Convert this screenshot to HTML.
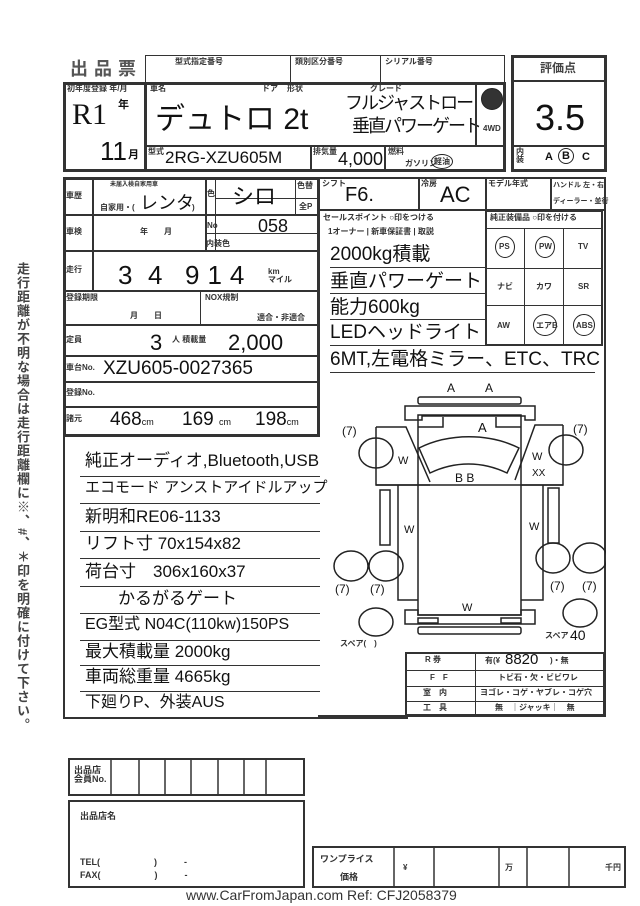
<!DOCTYPE html>
<html><head><meta charset="utf-8"><style>
body{margin:0;width:640px;height:906px;background:#fff;position:relative;overflow:hidden;font-family:"Liberation Sans","Noto Sans CJK JP",sans-serif;color:#111}
.b{position:absolute;border:2px solid #333;box-sizing:border-box}
.t{position:absolute;white-space:nowrap;line-height:1}
.s{font-size:8px;font-weight:bold;color:#333}
.c{position:absolute;border:1.5px solid #222;border-radius:50%;box-sizing:border-box}
</style></head><body>
<!-- header -->
<div class="t" style="left:70px;top:60px;font-size:18px;font-weight:bold;color:#555;letter-spacing:6px">出品票</div>
<div class="b" style="left:145px;top:55px;width:360px;height:28px;border-width:1.5px"></div>
<div class="b" style="left:290px;top:55px;width:1px;height:28px;border-width:0 0 0 1.5px"></div>
<div class="b" style="left:380px;top:55px;width:1px;height:28px;border-width:0 0 0 1.5px"></div>
<div class="t s" style="left:175px;top:58px">型式指定番号</div>
<div class="t s" style="left:295px;top:58px">類別区分番号</div>
<div class="t s" style="left:385px;top:58px">シリアル番号</div>
<div class="b" style="left:63px;top:82px;width:443px;height:90px;border-width:3px"></div>
<div class="b" style="left:63px;top:82px;width:84px;height:90px;border-width:3px"></div>
<div class="t s" style="left:67px;top:85px">初年度登録 年/月</div>
<div class="t" style="left:72px;top:100px;font-size:30px;font-family:'Liberation Serif',serif">R1</div>
<div class="t" style="left:118px;top:100px;font-size:11px;font-weight:bold">年</div>
<div class="t" style="left:100px;top:138px;font-size:26px">11</div>
<div class="t" style="left:128px;top:150px;font-size:11px;font-weight:bold">月</div>
<div class="t s" style="left:150px;top:85px">車名</div>
<div class="t s" style="left:262px;top:85px">ドア</div>
<div class="t s" style="left:287px;top:85px">形状</div>
<div class="t s" style="left:370px;top:85px">グレード</div>
<div class="t" style="left:155px;top:105px;font-size:30px">デュトロ 2t</div>
<div class="t" style="left:345px;top:94px;font-size:18px;letter-spacing:-2px">フルジャストロー</div>
<div class="t" style="left:352px;top:117px;font-size:18px;letter-spacing:-2px">垂直パワーゲート</div>
<div class="b" style="left:475px;top:82px;width:31px;height:65px;border-width:0 0 0 2px"></div>
<div class="c" style="left:481px;top:88px;width:22px;height:22px;background:#333"></div>
<div class="t s" style="left:483px;top:125px">4WD</div>
<div class="b" style="left:145px;top:145px;width:361px;height:27px;border-width:2px 0 0 2px"></div>
<div class="b" style="left:310px;top:145px;width:76px;height:27px;border-width:0 2px 0 2px"></div>
<div class="t s" style="left:148px;top:148px">型式</div>
<div class="t" style="left:165px;top:149px;font-size:17px">2RG-XZU605M</div>
<div class="t s" style="left:313px;top:148px">排気量</div>
<div class="t" style="left:338px;top:150px;font-size:18px">4,000</div>
<div class="t s" style="left:388px;top:148px">燃料</div>
<div class="t s" style="left:405px;top:160px">ガソリン</div>
<div class="c" style="left:431px;top:154px;width:22px;height:15px"></div>
<div class="t s" style="left:434px;top:158px">軽油</div>
<!-- score -->
<div class="b" style="left:511px;top:55px;width:96px;height:117px;border-width:3px"></div>
<div class="b" style="left:511px;top:55px;width:96px;height:27px;border-width:0 0 2px 0"></div>
<div class="t" style="left:540px;top:62px;font-size:12px;font-weight:bold;color:#444">評価点</div>
<div class="t" style="left:535px;top:100px;font-size:36px">3.5</div>
<div class="b" style="left:511px;top:145px;width:96px;height:27px;border-width:2px 0 0 0"></div>
<div class="t s" style="left:516px;top:148px">内<br>装</div>
<div class="t" style="left:545px;top:152px;font-size:11px;font-weight:bold">A</div>
<div class="c" style="left:558px;top:148px;width:16px;height:16px"></div>
<div class="t" style="left:562px;top:151px;font-size:11px;font-weight:bold">B</div>
<div class="t" style="left:582px;top:152px;font-size:11px;font-weight:bold">C</div>
<!-- left section 2 -->
<div class="b" style="left:63px;top:177px;width:257px;height:260px;border-width:3px"></div>
<div class="b" style="left:63px;top:214px;width:257px;height:1px;border-width:2px 0 0 0"></div>
<div class="b" style="left:63px;top:250px;width:257px;height:1px;border-width:2px 0 0 0"></div>
<div class="b" style="left:63px;top:290px;width:257px;height:1px;border-width:2px 0 0 0"></div>
<div class="b" style="left:63px;top:324px;width:257px;height:1px;border-width:2px 0 0 0"></div>
<div class="b" style="left:63px;top:355px;width:257px;height:1px;border-width:2px 0 0 0"></div>
<div class="b" style="left:63px;top:381px;width:257px;height:1px;border-width:2px 0 0 0"></div>
<div class="b" style="left:63px;top:406px;width:257px;height:1px;border-width:2px 0 0 0"></div>
<div class="b" style="left:92px;top:177px;width:1px;height:113px;border-width:0 0 0 2px"></div>
<div class="b" style="left:205px;top:177px;width:1px;height:73px;border-width:0 0 0 2px"></div>
<div class="b" style="left:215px;top:177px;width:1px;height:73px;border-width:0 0 0 1.5px"></div>
<div class="b" style="left:295px;top:177px;width:1px;height:37px;border-width:0 0 0 1.5px"></div>
<div class="b" style="left:215px;top:198px;width:105px;height:1px;border-width:1.5px 0 0 0"></div>
<div class="b" style="left:205px;top:233px;width:115px;height:1px;border-width:1.5px 0 0 0"></div>
<div class="t s" style="left:66px;top:192px">車歴</div>
<div class="t s" style="left:110px;top:182px;font-size:6px">未届入検自家用車</div>
<div class="t s" style="left:100px;top:204px">自家用・(</div>
<div class="t" style="left:140px;top:194px;font-size:18px">レンタ</div>
<div class="t s" style="left:192px;top:204px">)</div>
<div class="t s" style="left:207px;top:190px">色</div>
<div class="t" style="left:232px;top:186px;font-size:22px">シロ</div>
<div class="t s" style="left:297px;top:182px">色替</div>
<div class="t s" style="left:299px;top:203px">全P</div>
<div class="t s" style="left:207px;top:222px">No</div>
<div class="t" style="left:258px;top:217px;font-size:18px">058</div>
<div class="t s" style="left:66px;top:228px">車検</div>
<div class="t s" style="left:140px;top:228px">年　　月</div>
<div class="t s" style="left:206px;top:240px">内装色</div>
<div class="t s" style="left:66px;top:266px">走行</div>
<div class="t" style="left:118px;top:262px;font-size:26px;letter-spacing:4px">3</div>
<div class="t" style="left:148px;top:262px;font-size:26px">4</div>
<div class="t" style="left:185px;top:262px;font-size:26px;letter-spacing:8px">914</div>
<div class="t s" style="left:268px;top:268px">km<br>マイル</div>
<div class="t s" style="left:66px;top:294px">登録期限</div>
<div class="t s" style="left:130px;top:312px">月　　日</div>
<div class="b" style="left:200px;top:290px;width:1px;height:34px;border-width:0 0 0 1.5px"></div>
<div class="t s" style="left:205px;top:294px">NOX規制</div>
<div class="t s" style="left:257px;top:314px">適合・非適合</div>
<div class="t s" style="left:66px;top:336px">定員</div>
<div class="t" style="left:150px;top:332px;font-size:22px">3</div>
<div class="t s" style="left:172px;top:336px">人 積載量</div>
<div class="t" style="left:228px;top:332px;font-size:22px">2,000</div>
<div class="t s" style="left:66px;top:364px">車台No.</div>
<div class="t" style="left:103px;top:359px;font-size:19px">XZU605-0027365</div>
<div class="t s" style="left:66px;top:389px">登録No.</div>
<div class="t s" style="left:66px;top:415px">諸元</div>
<div class="t" style="left:110px;top:410px;font-size:19px">468<small style="font-size:9px">cm</small></div>
<div class="t" style="left:182px;top:410px;font-size:19px">169 <small style="font-size:9px">cm</small></div>
<div class="t" style="left:255px;top:410px;font-size:19px">198<small style="font-size:9px">cm</small></div>
<!-- right section 2 -->
<div class="b" style="left:318px;top:177px;width:288px;height:540px;border-width:0 2px 2px 0"></div>
<div class="b" style="left:318px;top:177px;width:288px;height:34px;border-width:2px 0 2px 0"></div>
<div class="t s" style="left:322px;top:180px">シフト</div>
<div class="t" style="left:345px;top:185px;font-size:20px">F6.</div>
<div class="b" style="left:418px;top:177px;width:1px;height:34px;border-width:0 0 0 2px"></div>
<div class="t s" style="left:421px;top:180px">冷房</div>
<div class="t" style="left:440px;top:184px;font-size:22px">AC</div>
<div class="b" style="left:485px;top:177px;width:1px;height:34px;border-width:0 0 0 2px"></div>
<div class="t s" style="left:488px;top:180px">モデル年式</div>
<div class="b" style="left:550px;top:177px;width:1px;height:34px;border-width:0 0 0 2px"></div>
<div class="t s" style="left:553px;top:182px;font-size:7px">ハンドル 左・右</div>
<div class="t s" style="left:553px;top:198px;font-size:7px">ディーラー・並行</div>
<div class="t s" style="left:323px;top:214px">セールスポイント ○印をつける</div>
<div class="t s" style="left:328px;top:228px">1オーナー | 新車保証書 | 取説</div>
<div class="t" style="left:330px;top:245px;font-size:19px">2000kg積載</div>
<div class="t" style="left:330px;top:272px;font-size:19px">垂直パワーゲート</div>
<div class="t" style="left:330px;top:298px;font-size:19px">能力600kg</div>
<div class="t" style="left:330px;top:323px;font-size:19px">LEDヘッドライト</div>
<div class="t" style="left:330px;top:350px;font-size:19px">6MT,左電格ミラー、ETC、TRC</div>
<div class="b" style="left:330px;top:267px;width:155px;height:1px;border-width:1px 0 0 0"></div>
<div class="b" style="left:330px;top:293px;width:155px;height:1px;border-width:1px 0 0 0"></div>
<div class="b" style="left:330px;top:319px;width:155px;height:1px;border-width:1px 0 0 0"></div>
<div class="b" style="left:330px;top:345px;width:155px;height:1px;border-width:1px 0 0 0"></div>
<div class="b" style="left:330px;top:372px;width:265px;height:1px;border-width:1px 0 0 0"></div>
<div class="b" style="left:485px;top:210px;width:118px;height:136px;border-width:2px"></div>
<div class="t s" style="left:490px;top:214px">純正装備品 ○印を付ける</div>
<div class="b" style="left:485px;top:228px;width:118px;height:118px;border-width:1.5px 0 0 0"></div>
<div class="b" style="left:524px;top:228px;width:40px;height:118px;border-width:0 1.5px 0 1.5px"></div>
<div class="b" style="left:485px;top:268px;width:118px;height:38px;border-width:1.5px 0 1.5px 0"></div>
<div class="c" style="left:495px;top:236px;width:20px;height:22px"></div><div class="t s" style="left:499px;top:243px">PS</div>
<div class="c" style="left:535px;top:236px;width:20px;height:22px"></div><div class="t s" style="left:539px;top:243px">PW</div>
<div class="t s" style="left:578px;top:243px">TV</div>
<div class="t s" style="left:497px;top:283px">ナビ</div><div class="t s" style="left:536px;top:283px">カワ</div><div class="t s" style="left:578px;top:283px">SR</div>
<div class="t s" style="left:497px;top:322px">AW</div>
<div class="c" style="left:533px;top:314px;width:24px;height:22px"></div><div class="t s" style="left:536px;top:322px">エアB</div>
<div class="c" style="left:573px;top:314px;width:22px;height:22px"></div><div class="t s" style="left:576px;top:322px">ABS</div>
<!-- car diagram -->
<svg style="position:absolute;left:318px;top:375px" width="288" height="280" fill="none" stroke="#222" stroke-width="1.5">
<rect x="100" y="22" width="103" height="7" rx="2"/>
<path d="M87 31h130v14h-10v-4h-103v4h-17z"/>
<rect x="100" y="40" width="103" height="200"/>
<path d="M100 52h25v-10M203 52h-25v-10"/>
<path d="M101 73c30-15 70-15 100 0l-12 25c-25-12-52-12-77 0z"/>
<path d="M58 52h30l24 55M58 52v58h54M245 50h-28l-20 55M245 50v60h-42"/>
<path d="M58 110h187M80 110v115h20M225 110v115h-22"/>
<ellipse cx="58" cy="78" rx="17" ry="15"/><ellipse cx="248" cy="75" rx="17" ry="15"/>
<rect x="62" y="115" width="10" height="55"/><rect x="230" y="113" width="11" height="55"/>
<ellipse cx="33" cy="191" rx="17" ry="15"/><ellipse cx="68" cy="191" rx="17" ry="15"/>
<ellipse cx="235" cy="183" rx="17" ry="15"/><ellipse cx="272" cy="183" rx="17" ry="15"/>
<path d="M87 235h13v5h103v-5h14v14h-130z"/>
<rect x="100" y="243" width="20" height="5"/><rect x="183" y="243" width="20" height="5"/>
<rect x="100" y="252" width="103" height="7" rx="2"/>
<ellipse cx="58" cy="247" rx="17" ry="14"/><ellipse cx="262" cy="238" rx="17" ry="14"/>
</svg>
<div class="t" style="left:447px;top:382px;font-size:12px">A</div><div class="t" style="left:485px;top:382px;font-size:12px">A</div>
<div class="t" style="left:478px;top:421px;font-size:13px">A</div>
<div class="t" style="left:455px;top:472px;font-size:12px">B B</div>
<div class="t" style="left:342px;top:425px;font-size:12px">(7)</div><div class="t" style="left:573px;top:423px;font-size:12px">(7)</div>
<div class="t" style="left:398px;top:456px;font-size:11px">W</div><div class="t" style="left:532px;top:452px;font-size:11px">W</div>
<div class="t" style="left:532px;top:469px;font-size:10px">XX</div>
<div class="t" style="left:404px;top:525px;font-size:11px">W</div><div class="t" style="left:529px;top:522px;font-size:11px">W</div>
<div class="t" style="left:335px;top:583px;font-size:12px">(7)</div><div class="t" style="left:370px;top:583px;font-size:12px">(7)</div>
<div class="t" style="left:550px;top:580px;font-size:12px">(7)</div><div class="t" style="left:582px;top:580px;font-size:12px">(7)</div>
<div class="t" style="left:462px;top:603px;font-size:11px">W</div>
<div class="t s" style="left:340px;top:640px">スペア(　)</div>
<div class="t s" style="left:545px;top:632px">スペア</div>
<div class="t" style="left:570px;top:628px;font-size:14px">40</div>
<!-- lower right table -->
<div class="b" style="left:405px;top:652px;width:200px;height:64px;border-width:2px"></div>
<div class="b" style="left:405px;top:670px;width:200px;height:32px;border-width:1.5px 0 1.5px 0"></div>
<div class="b" style="left:405px;top:686px;width:200px;height:1px;border-width:1.5px 0 0 0"></div>
<div class="b" style="left:475px;top:652px;width:1px;height:64px;border-width:0 0 0 1.5px"></div>
<div class="t s" style="left:425px;top:656px">R 券</div>
<div class="t s" style="left:485px;top:657px">有(¥</div><div class="t" style="left:505px;top:652px;font-size:15px">8820</div><div class="t s" style="left:550px;top:657px">)・無</div>
<div class="t s" style="left:430px;top:674px">F　F</div><div class="t s" style="left:498px;top:674px">トビ石・欠・ビビワレ</div>
<div class="t s" style="left:423px;top:689px">室　内</div><div class="t s" style="left:480px;top:689px">ヨゴレ・コゲ・ヤブレ・コゲ穴</div>
<div class="t s" style="left:423px;top:704px">工　具</div><div class="t s" style="left:495px;top:704px">無　｜ジャッキ｜　無</div>
<!-- lower left notes -->
<div class="b" style="left:63px;top:435px;width:345px;height:284px;border-width:0 0 2px 2px"></div>
<div class="t" style="left:85px;top:452px;font-size:17px">純正オーディオ,Bluetooth,USB</div>
<div class="t" style="left:85px;top:480px;font-size:15px">エコモード アンストアイドルアップ</div>
<div class="t" style="left:85px;top:508px;font-size:17px">新明和RE06-1133</div>
<div class="t" style="left:85px;top:535px;font-size:17px">リフト寸 70x154x82</div>
<div class="t" style="left:85px;top:563px;font-size:17px">荷台寸　306x160x37</div>
<div class="t" style="left:118px;top:590px;font-size:17px">かるがるゲート</div>
<div class="t" style="left:85px;top:617px;font-size:16px">EG型式 N04C(110kw)150PS</div>
<div class="t" style="left:85px;top:643px;font-size:17px">最大積載量 2000kg</div>
<div class="t" style="left:85px;top:668px;font-size:17px">車両総重量 4665kg</div>
<div class="t" style="left:85px;top:695px;font-size:16px">下廻りP、外装AUS</div>
<div class="b" style="left:80px;top:476px;width:240px;height:1px;border-width:1px 0 0 0"></div>
<div class="b" style="left:80px;top:503px;width:240px;height:1px;border-width:1px 0 0 0"></div>
<div class="b" style="left:80px;top:531px;width:240px;height:1px;border-width:1px 0 0 0"></div>
<div class="b" style="left:80px;top:558px;width:240px;height:1px;border-width:1px 0 0 0"></div>
<div class="b" style="left:80px;top:586px;width:240px;height:1px;border-width:1px 0 0 0"></div>
<div class="b" style="left:80px;top:613px;width:240px;height:1px;border-width:1px 0 0 0"></div>
<div class="b" style="left:80px;top:640px;width:240px;height:1px;border-width:1px 0 0 0"></div>
<div class="b" style="left:80px;top:665px;width:240px;height:1px;border-width:1px 0 0 0"></div>
<div class="b" style="left:80px;top:691px;width:240px;height:1px;border-width:1px 0 0 0"></div>
<!-- side vertical text -->
<div class="t" style="left:16px;top:262px;font-size:13px;font-weight:bold;color:#444;writing-mode:vertical-rl;letter-spacing:1px">走行距離が不明な場合は走行距離欄に※、#、＊印を明確に付けて下さい。</div>
<!-- bottom -->
<div class="b" style="left:68px;top:758px;width:237px;height:38px;border-width:2px"></div>
<div class="t s" style="left:74px;top:766px;font-size:9px">出品店<br>会員No.</div>
<svg style="position:absolute;left:68px;top:758px" width="237" height="38" stroke="#333" stroke-width="1.5"><path d="M43 0v38M71 0v38M97 0v38M123 0v38M150 0v38M176 0v38M198 0v38"/></svg>
<div class="b" style="left:68px;top:800px;width:237px;height:88px;border-width:2px"></div>
<div class="t s" style="left:80px;top:812px;font-size:9px">出品店名</div>
<div class="t s" style="left:80px;top:858px;font-size:9px">TEL(　　　　　　)　　　-</div>
<div class="t s" style="left:80px;top:871px;font-size:9px">FAX(　　　　　　)　　　-</div>
<div class="b" style="left:312px;top:846px;width:314px;height:42px;border-width:2px"></div>
<svg style="position:absolute;left:312px;top:846px" width="314" height="42" stroke="#333" stroke-width="1.5"><path d="M82 0v42M122 0v42M187 0v42M215 0v42M257 0v42"/></svg>
<div class="t s" style="left:320px;top:855px;font-size:9px">ワンプライス</div>
<div class="t s" style="left:340px;top:873px;font-size:9px">価格</div>
<div class="t s" style="left:403px;top:864px">¥</div>
<div class="t s" style="left:505px;top:864px">万</div>
<div class="t s" style="left:605px;top:864px">千円</div>
<div class="t" style="left:186px;top:888px;font-size:14px;color:#333">www.CarFromJapan.com Ref: CFJ2058379</div>
</body></html>
